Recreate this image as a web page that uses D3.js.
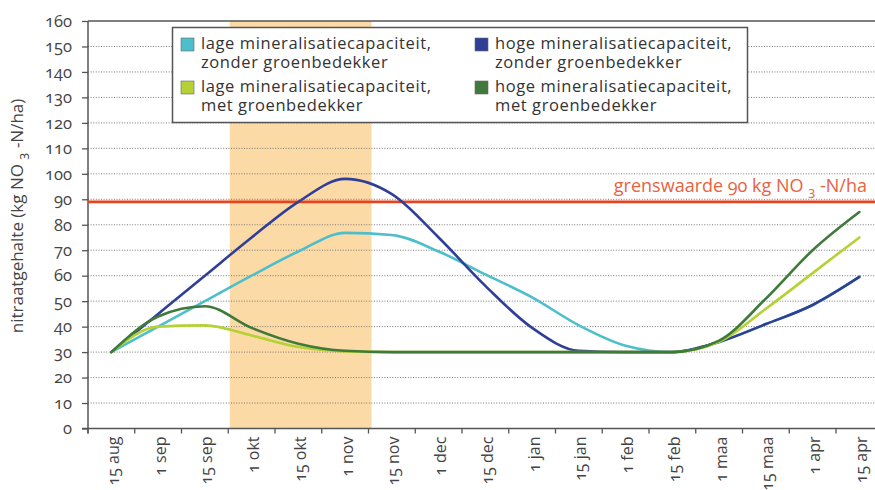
<!DOCTYPE html>
<html><head><meta charset="utf-8">
<script src="https://cdn.jsdelivr.net/npm/d3@7/dist/d3.min.js"></script>
<style>
html,body{margin:0;padding:0;background:#fff;}
svg{display:block;font-family:"Open Sans",sans-serif;}
text{font-variant-numeric:oldstyle-nums;font-feature-settings:"onum" 1;}
</style></head>
<body><svg id="c" width="875" height="490"></svg>
<script>
const categories = ["15 aug","1 sep","15 sep","1 okt","15 okt","1 nov","15 nov","1 dec","15 dec","1 jan","15 jan","1 feb","15 feb","1 maa","15 maa","1 apr","15 apr"];
const lageZonder = [30,40,50,60,69.5,76.8,76,69.5,60.5,51.5,40.5,32.5,30,34,41,48.5,59.5];
const hogeZonder = [30,45,60,75,89,98,92,75,56,39.5,30.5,30,30,34,41,48.5,59.5];
const lageMet    = [30,40,40.5,36.5,32,30.3,30,30,30,30,30,30,30,34,47,61,75];
const hogeMet    = [30,44,48,39.5,33.3,30.5,30,30,30,30,30,30,30,34.5,51,70,85];
const yTicks = [0,10,20,30,40,50,60,70,80,90,100,110,120,130,140,150,160];
const grenswaarde = 89;
const shadeFrom = "1 okt", shadeTo = "1 nov";
const seriesNames = [
  ["lage mineralisatiecapaciteit,","zonder groenbedekker"],
  ["hoge mineralisatiecapaciteit,","zonder groenbedekker"],
  ["lage mineralisatiecapaciteit,","met groenbedekker"],
  ["hoge mineralisatiecapaciteit,","met groenbedekker"]
];
const colors = ["#4dbfcc","#2f3f98","#b4d234","#3f7a3b"];
const onum = sel => sel.style("font-variant-numeric","oldstyle-nums").style("font-feature-settings","'onum' 1");

const svg = d3.select("#c");
const x0 = 88, step = 46.75;
const x = d3.scaleBand().domain(categories).range([x0, x0 + step*categories.length]).padding(0);
const y = d3.scaleLinear().domain([0,160]).range([428.5,21]);
const W = 875;

// shade
svg.append("rect").attr("x", x(shadeFrom)+1.5).attr("y", y(160))
  .attr("width", x(shadeTo) + x.bandwidth() - x(shadeFrom)+1.5).attr("height", y(0)-y(160))
  .attr("fill","#fcdaa6");

// gridlines
svg.append("g").selectAll("line").data(yTicks.filter(d=>d>0 && d<160)).join("line")
  .attr("x1", x0).attr("x2", W).attr("y1", d=>y(d)).attr("y2", d=>y(d))
  .attr("stroke","#777").attr("stroke-width",1).attr("stroke-dasharray","1,1.6");
// top line
svg.append("line").attr("x1",x0).attr("x2",W).attr("y1",y(160)).attr("y2",y(160))
  .attr("stroke","#555").attr("stroke-width",1.3);

// y axis
const yAxis = svg.append("g").attr("transform",`translate(${x0},0)`)
  .call(d3.axisLeft(y).tickValues(yTicks).tickSize(6).tickPadding(10));
yAxis.attr("font-family",null).attr("font-size",null);
yAxis.select(".domain").attr("stroke","#555").attr("stroke-width",1.5).attr("d",`M0,${y(0)+5}V${y(160)}`);
yAxis.selectAll(".tick line").attr("stroke","#555").attr("stroke-width",1.3);
yAxis.selectAll(".tick text").attr("font-family","Open Sans").attr("font-size",16.5).attr("fill","#444").call(onum);

// x axis
const xg = svg.append("g").attr("transform",`translate(0,${y(0)})`);
xg.append("line").attr("x1",x0-6).attr("x2",W).attr("stroke","#555").attr("stroke-width",1.5);
xg.selectAll("line.tk").data(categories).join("line").attr("class","tk")
  .attr("x1",d=>x(d)).attr("x2",d=>x(d)).attr("y1",0).attr("y2",5).attr("stroke","#555").attr("stroke-width",1.3);
xg.selectAll("text").data(categories).join("text")
  .attr("transform",d=>`translate(${x(d)+x.bandwidth()/2+2},8) rotate(-90)`)
  .attr("text-anchor","end").attr("dy","0.35em")
  .attr("font-size",16).attr("fill","#444").call(onum)
  .text(d=>d);

// grenswaarde
svg.append("line").attr("x1",x0).attr("x2",W).attr("y1",y(grenswaarde)).attr("y2",y(grenswaarde))
  .attr("stroke","#e8431f").attr("stroke-width",2.6);
const gt = svg.append("text").attr("x",867).attr("y",y(grenswaarde)-10).attr("text-anchor","end")
  .attr("font-size",18).attr("fill","#e9623f").call(onum);
gt.append("tspan").text("grenswaarde 90 kg NO ");
gt.append("tspan").attr("font-size",13).attr("dy",4).text("3");
gt.append("tspan").attr("dy",-4).text(" -N/ha");

// lines
const data = [lageZonder, hogeZonder, lageMet, hogeMet];
const line = d3.line().x((d,i)=>x(categories[i])+x.bandwidth()/2).y(d=>y(d)).curve(d3.curveMonotoneX);
svg.append("g").selectAll("path").data(data).join("path")
  .attr("d",line).attr("fill","none").attr("stroke",(d,i)=>colors[i]).attr("stroke-width",2.6)
  .attr("stroke-linecap","round");

// legend
const lg = svg.append("g");
lg.append("rect").attr("x",172.5).attr("y",27.5).attr("width",575).attr("height",95)
  .attr("fill","#fff").attr("stroke","#555").attr("stroke-width",1.5);
const pos = [[181,35],[475,35],[181,78],[475,78]];
seriesNames.forEach((nm,i)=>{
  const [px,py] = pos[i];
  lg.append("rect").attr("x",px).attr("y",py+3).attr("width",13).attr("height",13)
    .attr("fill",colors[i]).attr("stroke","#666").attr("stroke-width",0.6);
  lg.append("text").attr("x",px+20).attr("y",py+14).attr("font-size",16.5).attr("letter-spacing",0.6).attr("fill","#333").text(nm[0]);
  lg.append("text").attr("x",px+20).attr("y",py+33).attr("font-size",16.5).attr("letter-spacing",0.6).attr("fill","#333").text(nm[1]);
});

// y title
const yt = svg.append("text").attr("transform",`translate(23,216) rotate(-90)`).attr("text-anchor","middle")
  .attr("font-size",17).attr("fill","#444");
yt.append("tspan").text("nitraatgehalte (kg NO ");
yt.append("tspan").attr("font-size",13).attr("dy",4).text("3");
yt.append("tspan").attr("dy",-4).text(" -N/ha)");
</script></body></html>
